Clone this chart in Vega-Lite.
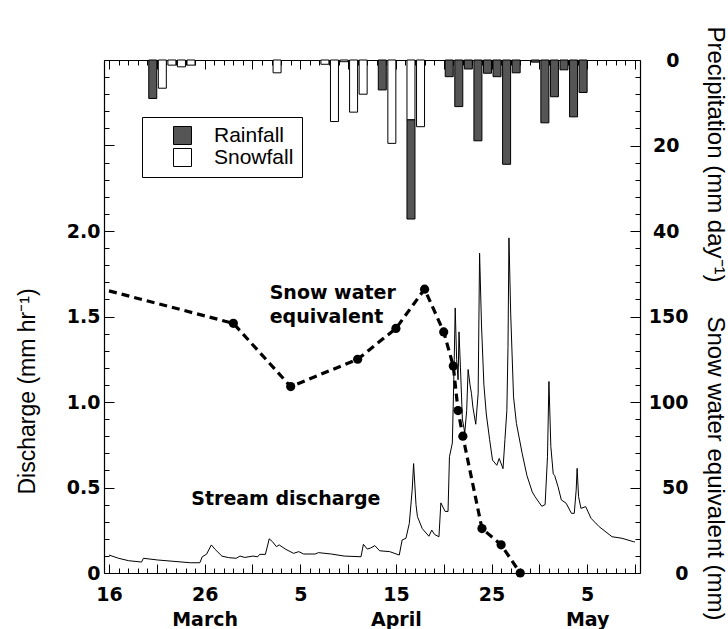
{
  "$schema": "https://vega.github.io/schema/vega-lite/v6.json",
  "width": 536,
  "height": 513,
  "autosize": {"type": "none"},
  "padding": {"left": 104, "top": 60, "right": 88, "bottom": 56},
  "background": "white",
  "config": {
    "view": {"stroke": null},
    "axis": {
      "grid": false,
      "domainColor": "black",
      "domainWidth": 1.2,
      "tickColor": "black",
      "tickWidth": 1,
      "labelColor": "black",
      "titleColor": "black",
      "labelFont": "DejaVu Sans",
      "titleFont": "Liberation Sans",
      "labelFontWeight": "bold",
      "labelFontSize": 19,
      "titleFontWeight": "normal",
      "titleFontSize": 23,
      "labelOverlap": false,
      "labelFlush": false,
      "labelBound": false
    },
    "text": {"font": "DejaVu Sans"}
  },
  "datasets": {
    "precip": [
      {"day": 79, "type": "Rainfall", "mm": 9.0},
      {"day": 80, "type": "Snowfall", "mm": 6.6},
      {"day": 81, "type": "Snowfall", "mm": 1.2},
      {"day": 82, "type": "Snowfall", "mm": 1.6},
      {"day": 83, "type": "Snowfall", "mm": 1.2},
      {"day": 92, "type": "Snowfall", "mm": 3.0},
      {"day": 97, "type": "Snowfall", "mm": 1.0},
      {"day": 98, "type": "Snowfall", "mm": 14.4},
      {"day": 99, "type": "Snowfall", "mm": 0.4},
      {"day": 100, "type": "Snowfall", "mm": 12.2},
      {"day": 101, "type": "Snowfall", "mm": 8.0},
      {"day": 103, "type": "Rainfall", "mm": 7.0},
      {"day": 104, "type": "Snowfall", "mm": 19.5},
      {"day": 106, "type": "Snowfall", "mm": 14.0},
      {"day": 106, "type": "Rainfall", "mm": 23.2},
      {"day": 107, "type": "Snowfall", "mm": 15.6},
      {"day": 110, "type": "Rainfall", "mm": 3.9},
      {"day": 111, "type": "Rainfall", "mm": 10.9},
      {"day": 112, "type": "Rainfall", "mm": 2.1},
      {"day": 113, "type": "Rainfall", "mm": 18.9},
      {"day": 114, "type": "Rainfall", "mm": 3.1},
      {"day": 115, "type": "Rainfall", "mm": 3.9},
      {"day": 116, "type": "Rainfall", "mm": 24.4},
      {"day": 117, "type": "Rainfall", "mm": 3.0},
      {"day": 119, "type": "Rainfall", "mm": 0.5},
      {"day": 120, "type": "Rainfall", "mm": 14.7},
      {"day": 121, "type": "Rainfall", "mm": 8.6},
      {"day": 122, "type": "Rainfall", "mm": 2.3},
      {"day": 123, "type": "Rainfall", "mm": 13.3},
      {"day": 124, "type": "Rainfall", "mm": 7.6}
    ],
    "discharge": [
      {"day": 75, "q": 0.105}, {"day": 76, "q": 0.086}, {"day": 77.05, "q": 0.072}, {"day": 78.4, "q": 0.064},
      {"day": 78.6, "q": 0.086}, {"day": 80.1, "q": 0.076}, {"day": 81.8, "q": 0.068}, {"day": 83.5, "q": 0.06},
      {"day": 84.5, "q": 0.06}, {"day": 84.75, "q": 0.095}, {"day": 85.2, "q": 0.11}, {"day": 85.7, "q": 0.164},
      {"day": 86.1, "q": 0.138}, {"day": 86.8, "q": 0.099}, {"day": 87.5, "q": 0.09}, {"day": 88.3, "q": 0.086},
      {"day": 88.7, "q": 0.099}, {"day": 89.2, "q": 0.091}, {"day": 90.05, "q": 0.099}, {"day": 90.55, "q": 0.095},
      {"day": 90.75, "q": 0.109}, {"day": 91.35, "q": 0.109}, {"day": 91.6, "q": 0.164}, {"day": 91.75, "q": 0.2},
      {"day": 92.1, "q": 0.183}, {"day": 92.5, "q": 0.154}, {"day": 92.8, "q": 0.164}, {"day": 93.5, "q": 0.138},
      {"day": 94.3, "q": 0.115}, {"day": 94.85, "q": 0.125}, {"day": 95.35, "q": 0.111}, {"day": 96.55, "q": 0.111},
      {"day": 96.9, "q": 0.119}, {"day": 98.25, "q": 0.111}, {"day": 99.6, "q": 0.099}, {"day": 101.35, "q": 0.095},
      {"day": 101.6, "q": 0.168}, {"day": 102.0, "q": 0.14}, {"day": 102.35, "q": 0.146}, {"day": 102.8, "q": 0.16},
      {"day": 103.3, "q": 0.13}, {"day": 104.35, "q": 0.125}, {"day": 105.35, "q": 0.105}, {"day": 105.65, "q": 0.193},
      {"day": 106.05, "q": 0.203}, {"day": 106.4, "q": 0.29}, {"day": 106.7, "q": 0.485}, {"day": 106.85, "q": 0.64},
      {"day": 107.1, "q": 0.4}, {"day": 107.25, "q": 0.33}, {"day": 107.75, "q": 0.26}, {"day": 108.45, "q": 0.215},
      {"day": 108.75, "q": 0.251}, {"day": 109.05, "q": 0.225}, {"day": 109.5, "q": 0.212}, {"day": 109.7, "q": 0.41},
      {"day": 110.15, "q": 0.36}, {"day": 110.45, "q": 0.36}, {"day": 110.6, "q": 0.68}, {"day": 110.9, "q": 0.76},
      {"day": 111.0, "q": 1.0}, {"day": 111.1, "q": 1.25}, {"day": 111.2, "q": 1.55}, {"day": 111.35, "q": 1.25},
      {"day": 111.5, "q": 1.13}, {"day": 111.6, "q": 1.41}, {"day": 111.75, "q": 1.2}, {"day": 111.95, "q": 0.9},
      {"day": 112.2, "q": 0.82}, {"day": 112.4, "q": 0.95}, {"day": 112.55, "q": 1.19}, {"day": 112.75, "q": 1.1},
      {"day": 112.9, "q": 1.05}, {"day": 113.05, "q": 0.97}, {"day": 113.35, "q": 0.87}, {"day": 113.6, "q": 1.05},
      {"day": 113.75, "q": 1.87}, {"day": 113.95, "q": 1.45}, {"day": 114.2, "q": 1.1}, {"day": 114.45, "q": 0.93},
      {"day": 114.8, "q": 0.78}, {"day": 115.1, "q": 0.66}, {"day": 115.55, "q": 0.63}, {"day": 115.8, "q": 0.67},
      {"day": 116.2, "q": 0.61}, {"day": 116.4, "q": 0.78}, {"day": 116.6, "q": 0.95}, {"day": 116.72, "q": 1.32},
      {"day": 116.82, "q": 1.96}, {"day": 117.0, "q": 1.52}, {"day": 117.3, "q": 1.03}, {"day": 117.6, "q": 0.875},
      {"day": 118.2, "q": 0.7}, {"day": 118.7, "q": 0.57}, {"day": 119.25, "q": 0.475}, {"day": 119.55, "q": 0.446},
      {"day": 120.25, "q": 0.39}, {"day": 120.6, "q": 0.4}, {"day": 120.85, "q": 0.68}, {"day": 121.0, "q": 1.12},
      {"day": 121.2, "q": 0.74}, {"day": 121.45, "q": 0.58}, {"day": 121.6, "q": 0.57}, {"day": 121.95, "q": 0.505},
      {"day": 122.3, "q": 0.427}, {"day": 122.8, "q": 0.408}, {"day": 123.35, "q": 0.349}, {"day": 123.65, "q": 0.349},
      {"day": 123.85, "q": 0.485}, {"day": 123.95, "q": 0.612}, {"day": 124.1, "q": 0.446}, {"day": 124.35, "q": 0.378},
      {"day": 124.85, "q": 0.388}, {"day": 125.4, "q": 0.32}, {"day": 126.25, "q": 0.271}, {"day": 127.6, "q": 0.212},
      {"day": 128.65, "q": 0.203}, {"day": 129.85, "q": 0.183}, {"day": 130, "q": 0.182}
    ],
    "swe": [
      {"day": 75, "swe": 165},
      {"day": 88, "swe": 146},
      {"day": 94, "swe": 109},
      {"day": 101, "swe": 125},
      {"day": 105, "swe": 143},
      {"day": 108, "swe": 166},
      {"day": 110, "swe": 141},
      {"day": 111, "swe": 121},
      {"day": 111.5, "swe": 95},
      {"day": 112, "swe": 80},
      {"day": 114, "swe": 26},
      {"day": 116, "swe": 16.5},
      {"day": 118, "swe": 0}
    ],
    "notes": [
      {"day": 91.8, "q": 1.64, "label": "Snow water"},
      {"day": 91.8, "q": 1.5, "label": "equivalent"},
      {"day": 83.6, "q": 0.43, "label": "Stream discharge"}
    ]
  },
  "resolve": {"scale": {"y": "independent"}, "axis": {"x": "independent", "y": "independent"}},
  "layer": [
    {
      "data": {"name": "precip"},
      "mark": {"type": "bar", "size": 8, "xOffset": 5.5, "stroke": "black", "strokeWidth": 1},
      "encoding": {
        "x": {
          "field": "day", "type": "quantitative",
          "scale": {"domain": [75, 130], "nice": false, "zero": false},
          "axis": {
            "orient": "top", "title": null, "labels": false,
            "values": [75,76,77,78,79,80,81,82,83,84,85,86,87,88,89,90,91,92,93,94,95,96,97,98,99,100,101,102,103,104,105,106,107,108,109,110,111,112,113,114,115,116,117,118,119,120,121,122,123,124,125,126,127,128,129,130],
            "tickSize": {"condition": {"test": "datum.value % 5 === 0", "value": -9}, "value": -5}
          }
        },
        "y": {
          "field": "mm", "type": "quantitative", "stack": "zero",
          "scale": {"domain": [0, 120], "reverse": true, "nice": false},
          "axis": {
            "orient": "right",
            "values": [0,4,8,12,16,20,24,28,32,36,40,44,48,52,56,60,64,68,72,76,80,84,88,92,96,100,104,108,112,116,120],
            "tickSize": {"condition": {"test": "datum.value % 20 === 0", "value": -10}, "value": -5},
            "labelExpr": "datum.value <= 40 && datum.value % 20 === 0 ? '' + datum.value : ''",
            "labelAlign": "right",
            "labelBaseline": "middle",
            "labelPadding": 49,
            "title": "Precipitation (mm day⁻¹)",
            "titleFontSize": 24,
            "titleY": 94,
            "titleX": 74,
            "titleBaseline": "middle",
            "titleAngle": 90
          }
        },
        "fill": {
          "field": "type", "type": "nominal",
          "scale": {"domain": ["Rainfall", "Snowfall"], "range": ["#555555", "#ffffff"]},
          "legend": {
            "orient": "none", "legendX": 38, "legendY": 57, "title": null,
            "symbolType": "square", "symbolSize": 324,
            "symbolStrokeColor": "black", "symbolStrokeWidth": 1,
            "symbolOffset": 22, "labelOffset": 21,
            "labelFont": "Liberation Sans", "labelFontSize": 21, "labelColor": "black",
            "rowPadding": -3, "padding": 8,
            "strokeColor": "black", "fillColor": "white"
          }
        },
        "order": {"field": "type", "sort": "descending"}
      }
    },
    {
      "data": {"name": "discharge"},
      "mark": {"type": "line", "color": "black", "strokeWidth": 1},
      "encoding": {
        "x": {
          "field": "day", "type": "quantitative",
          "axis": {
            "orient": "bottom", "title": null,
            "values": [75,76,77,78,79,80,81,82,83,84,85,86,87,88,89,90,91,92,93,94,95,96,97,98,99,100,101,102,103,104,105,106,107,108,109,110,111,112,113,114,115,116,117,118,119,120,121,122,123,124,125,126,127,128,129,130],
            "tickSize": {"condition": {"test": "datum.value % 5 === 0", "value": -9}, "value": -5},
            "labelExpr": "datum.value == 75 ? ['16', ''] : datum.value == 85 ? ['26', 'March'] : datum.value == 95 ? ['5', ''] : datum.value == 105 ? ['15', 'April'] : datum.value == 115 ? ['25', ''] : datum.value == 125 ? ['5', 'May'] : ''",
            "labelBaseline": "top",
            "labelPadding": 21,
            "labelLineHeight": 25
          }
        },
        "y": {
          "field": "q", "type": "quantitative",
          "scale": {"domain": [0, 3], "nice": false},
          "axis": {
            "orient": "left",
            "values": [0,0.1,0.2,0.3,0.4,0.5,0.6,0.7,0.8,0.9,1.0,1.1,1.2,1.3,1.4,1.5,1.6,1.7,1.8,1.9,2.0,2.1,2.2,2.3,2.4,2.5,2.6,2.7,2.8,2.9,3.0],
            "tickSize": {"condition": {"test": "abs(datum.value * 2 - round(datum.value * 2)) < 0.001", "value": -10}, "value": -5},
            "labelExpr": "datum.value == 0 ? '0' : (datum.value <= 2.001 && abs(datum.value * 2 - round(datum.value * 2)) < 0.001) ? format(datum.value, '.1f') : ''",
            "labelAlign": "right",
            "labelBaseline": "middle",
            "labelPadding": 14,
            "title": "Discharge (mm hr⁻¹)",
            "titleX": -77,
            "titleY": 331,
            "titleBaseline": "middle",
            "titleAngle": -90
          }
        }
      }
    },
    {
      "data": {"name": "notes"},
      "mark": {"type": "text", "align": "left", "baseline": "middle", "fontWeight": "bold", "fontSize": 19, "color": "black", "font": "DejaVu Sans"},
      "encoding": {
        "x": {"field": "day", "type": "quantitative", "axis": null},
        "y": {"field": "q", "type": "quantitative", "scale": {"domain": [0, 3], "nice": false}, "axis": null},
        "text": {"field": "label"}
      }
    },
    {
      "data": {"name": "swe"},
      "mark": {"type": "line", "color": "black", "strokeWidth": 3.2, "strokeDash": [8, 5]},
      "encoding": {
        "x": {"field": "day", "type": "quantitative", "axis": null},
        "y": {
          "field": "swe", "type": "quantitative",
          "scale": {"domain": [0, 300], "nice": false},
          "axis": {
            "orient": "right",
            "values": [0, 50, 100, 150],
            "ticks": false,
            "domain": false,
            "labelAlign": "right",
            "labelBaseline": "middle",
            "labelPadding": 48,
            "title": "Snow water equivalent (mm)",
            "titleFontSize": 24,
            "titleX": 74,
            "titleY": 408,
            "titleBaseline": "middle",
            "titleAngle": 90
          }
        }
      }
    },
    {
      "data": {"name": "swe"},
      "transform": [{"filter": "datum.day > 75"}],
      "mark": {"type": "point", "filled": true, "color": "black", "size": 85, "opacity": 1},
      "encoding": {
        "x": {"field": "day", "type": "quantitative", "axis": null},
        "y": {"field": "swe", "type": "quantitative", "scale": {"domain": [0, 300], "nice": false}, "axis": null}
      }
    }
  ]
}
